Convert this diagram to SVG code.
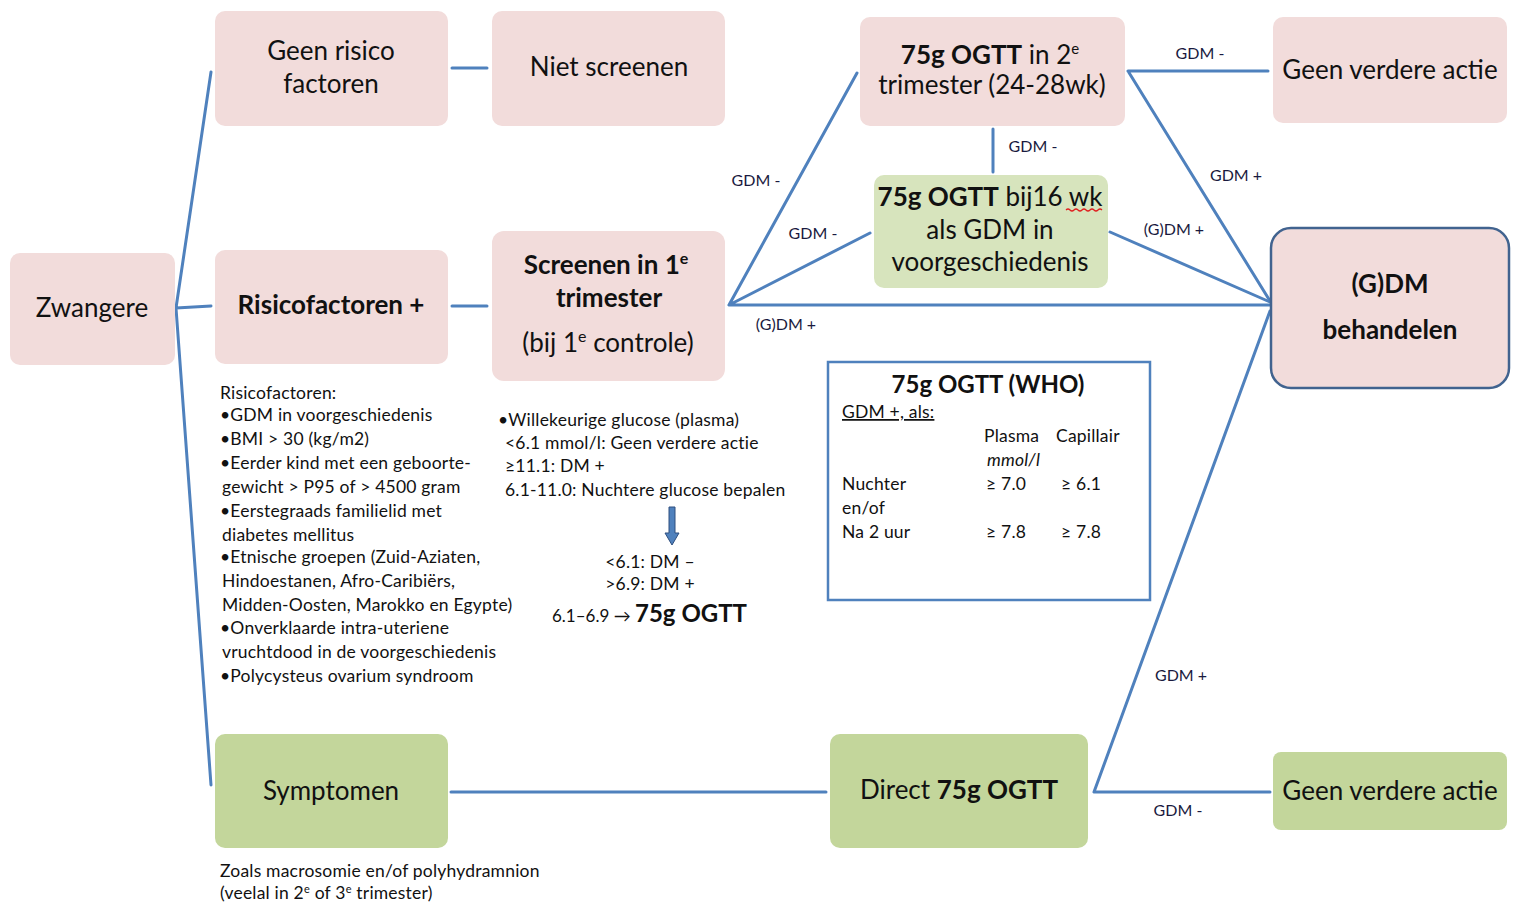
<svg xmlns="http://www.w3.org/2000/svg" width="1520" height="904" viewBox="0 0 1520 904">
<style>
text{font-family:Lato,"Open Sans","Liberation Sans",sans-serif;fill:#111}
.pink{fill:#F2DCDB}
.green{fill:#C3D69B}
.lgreen{fill:#D7E4BD}
.n{font-size:26px;text-anchor:middle}
.b{font-weight:bold}
.lbl{font-size:16px;text-anchor:middle;fill:#1a1a40}
.sm{font-size:17.5px;letter-spacing:0.2px}
.c{stroke:#4F81BD;stroke-width:3;fill:none;stroke-linecap:round}
</style>
<rect width="1520" height="904" fill="#fff"/>
<g id="connectors">
<path class="c" d="M176 308 L211 72 M176 308 L211 306 M176 308 L211 785"/>
<path class="c" d="M452 68 L487 68 M452 306 L487 306"/>
<path class="c" d="M729 305 L857 73 M729 305 L870 233 M729 305 L1270 305"/>
<path class="c" d="M1110 232 L1270 302"/>
<path class="c" d="M1128 71 L1268 71 M1128 71 L1270 301"/>
<path class="c" d="M993 129 L993 172"/>
<path class="c" d="M451 792 L826 792"/>
<path class="c" d="M1094 792 L1270 311 M1094 792 L1270 792"/>
</g>
<g id="edge-labels">
<text class="lbl" x="756" y="186">GDM -</text>
<text class="lbl" x="813" y="239">GDM -</text>
<text class="lbl" x="786" y="330">(G)DM +</text>
<text class="lbl" x="1033" y="152">GDM -</text>
<text class="lbl" x="1200" y="59">GDM -</text>
<text class="lbl" x="1236" y="181">GDM +</text>
<text class="lbl" x="1174" y="235">(G)DM +</text>
<text class="lbl" x="1181" y="681">GDM +</text>
<text class="lbl" x="1178" y="816">GDM -</text>
</g>
<g id="zwangere">
<rect class="pink" x="10" y="253" width="165" height="112" rx="10"/>
<text class="n" x="92" y="317">Zwangere</text>
</g>
<g id="geen-risico">
<rect class="pink" x="215" y="11" width="233" height="115" rx="10"/>
<text class="n" x="331" y="60">Geen risico</text>
<text class="n" x="331" y="93">factoren</text>
</g>
<g id="niet-screenen">
<rect class="pink" x="492" y="11" width="233" height="115" rx="10"/>
<text class="n" x="609" y="76">Niet screenen</text>
</g>
<g id="risicofactoren">
<rect class="pink" x="215" y="250" width="233" height="114" rx="10"/>
<text class="n b" x="331" y="314" font-size="27">Risicofactoren +</text>
</g>
<g id="screenen">
<rect class="pink" x="492" y="231" width="233" height="150" rx="12"/>
<text class="n b" x="606" y="274">Screenen in 1<tspan font-size="16" dy="-10">e</tspan></text>
<text class="n b" x="609" y="307">trimester</text>
<text class="n" x="608" y="352">(bij 1<tspan font-size="16" dy="-10">e</tspan><tspan dy="10"> controle)</tspan></text>
</g>
<g id="ogtt-2e">
<rect class="pink" x="860" y="17" width="265" height="109" rx="10"/>
<text class="n" x="990" y="64" font-size="24"><tspan class="b">75g OGTT</tspan> in 2<tspan font-size="15" dy="-10">e</tspan></text>
<text class="n" x="992" y="94" font-size="24">trimester (24-28wk)</text>
</g>
<g id="ogtt-16wk">
<rect class="lgreen" x="874" y="175" width="234" height="113" rx="10"/>
<text class="n" x="990" y="206"><tspan class="b">75g OGTT</tspan> bij16 wk</text>
<text class="n" x="990" y="239">als GDM in</text>
<text class="n" x="990" y="271">voorgeschiedenis</text>
<path d="M1066 210 q2 -2 4 0 t4 0 t4 0 t4 0 t4 0 t4 0 t4 0 t4 0 t4 0" stroke="#e02020" stroke-width="1.2" fill="none"/>
</g>
<g id="geen-actie-top">
<rect class="pink" x="1273" y="17" width="234" height="106" rx="10"/>
<text class="n" x="1390" y="79" font-size="27">Geen verdere actie</text>
</g>
<g id="behandelen">
<rect class="pink" x="1271" y="228" width="238" height="160" rx="20" stroke="#41638F" stroke-width="2.5"/>
<text class="n b" x="1390" y="293" font-size="24">(G)DM</text>
<text class="n b" x="1390" y="339" font-size="24">behandelen</text>
</g>
<g id="who-box">
<rect x="828" y="362" width="322" height="238" fill="#fff" stroke="#4F81BD" stroke-width="2.5"/>
<text x="988" y="393" font-size="24" text-anchor="middle" class="b">75g OGTT (WHO)</text>
<text class="sm" x="842" y="418" text-decoration="underline">GDM  +, als:</text>
<text class="sm" x="984" y="442">Plasma</text>
<text class="sm" x="1056" y="442">Capillair</text>
<text class="sm" x="987" y="466" font-style="italic">mmol/l</text>
<text class="sm" x="842" y="490">Nuchter</text>
<text class="sm" x="986" y="490">≥ 7.0</text>
<text class="sm" x="1061" y="490">≥ 6.1</text>
<text class="sm" x="842" y="514">en/of</text>
<text class="sm" x="842" y="538">Na 2 uur</text>
<text class="sm" x="986" y="538">≥ 7.8</text>
<text class="sm" x="1061" y="538">≥ 7.8</text>
</g>
<g id="risico-lijst">
<text class="sm" x="220" y="399">Risicofactoren:</text>
<text class="sm" x="220" y="421">•GDM in voorgeschiedenis</text>
<text class="sm" x="220" y="445">•BMI &gt; 30 (kg/m2)</text>
<text class="sm" x="220" y="469">•Eerder kind met een geboorte-</text>
<text class="sm" x="222" y="493">gewicht &gt; P95 of &gt; 4500 gram</text>
<text class="sm" x="220" y="517">•Eerstegraads familielid met</text>
<text class="sm" x="222" y="541">diabetes mellitus</text>
<text class="sm" x="220" y="563">•Etnische groepen (Zuid-Aziaten,</text>
<text class="sm" x="222" y="587">Hindoestanen, Afro-Caribiërs,</text>
<text class="sm" x="222" y="611">Midden-Oosten, Marokko en Egypte)</text>
<text class="sm" x="220" y="634">•Onverklaarde intra-uteriene</text>
<text class="sm" x="222" y="658">vruchtdood in de voorgeschiedenis</text>
<text class="sm" x="220" y="682">•Polycysteus ovarium syndroom</text>
</g>
<g id="glucose-tekst">
<text class="sm" x="498" y="426">•Willekeurige glucose (plasma)</text>
<text class="sm" x="505" y="449">&lt;6.1 mmol/l: Geen verdere actie</text>
<text class="sm" x="505" y="472">≥11.1: DM +</text>
<text class="sm" x="505" y="496">6.1-11.0:  Nuchtere glucose bepalen</text>
<path d="M669 507 L675 507 L675 533 L679 533 L672 545 L665 533 L669 533 Z" fill="#4F81BD" stroke="#2F4F7F" stroke-width="1"/>
<text class="sm" x="650" y="568" text-anchor="middle">&lt;6.1: DM –</text>
<text class="sm" x="650" y="590" text-anchor="middle">&gt;6.9: DM +</text>
<text x="552" y="622"><tspan font-size="17">6.1–6.9 → </tspan><tspan font-size="24" class="b">75g OGTT</tspan></text>
</g>
<g id="symptomen">
<rect class="green" x="215" y="734" width="233" height="114" rx="10"/>
<text class="n" x="331" y="800">Symptomen</text>
</g>
<g id="symptomen-tekst">
<text class="sm" x="220" y="877">Zoals macrosomie en/of  polyhydramnion</text>
<text class="sm" x="220" y="899">(veelal in 2<tspan font-size="11" dy="-6">e</tspan><tspan dy="6"> of 3</tspan><tspan font-size="11" dy="-6">e</tspan><tspan dy="6"> trimester)</tspan></text>
</g>
<g id="direct-ogtt">
<rect class="green" x="830" y="734" width="258" height="114" rx="10"/>
<text class="n" x="959" y="799">Direct <tspan class="b">75g OGTT</tspan></text>
</g>
<g id="geen-actie-bottom">
<rect class="green" x="1273" y="752" width="234" height="78" rx="8"/>
<text class="n" x="1390" y="800" font-size="27">Geen verdere actie</text>
</g>
</svg>
